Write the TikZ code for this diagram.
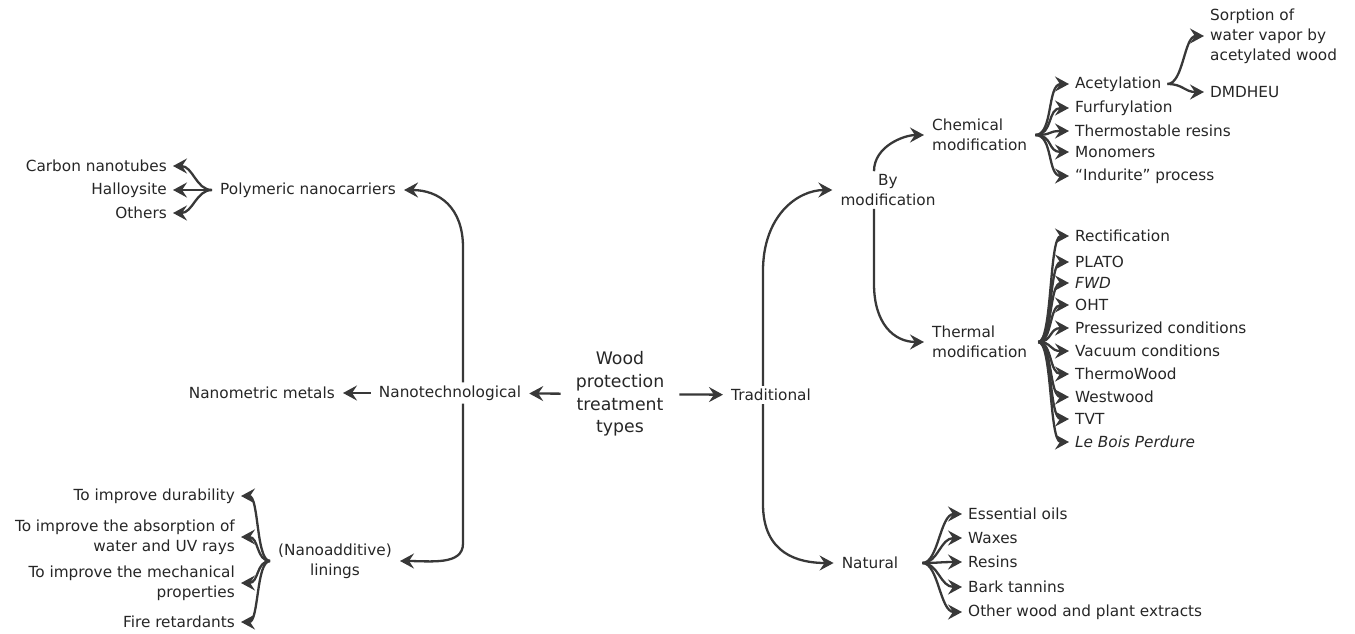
\documentclass[tikz,border=0pt]{standalone}
\usepackage{fontspec}
\setmainfont{DejaVu Sans}
\usetikzlibrary{arrows.meta}
\definecolor{ink}{HTML}{262626}
\definecolor{wire}{HTML}{383838}
\tikzset{
  txt/.style={text=ink, font=\fontsize{15.3}{19.8}\selectfont, inner ysep=3pt},
  main/.style={txt, inner xsep=8pt, align=center},
  rkid/.style={txt, inner xsep=6pt, anchor=west, align=left},
  lkid/.style={txt, inner xsep=6pt, anchor=east, align=right},
  arr/.style={draw=wire, line width=2.3pt, -{Stealth[length=14pt,width=15pt,inset=5pt]}},
}

\begin{document}
\begin{tikzpicture}[x=1pt,y=-1pt]
\useasboundingbox (0,0) rectangle (1355,633);

% centre and the two main branches
\node[main, font=\fontsize{17.3}{22.6}\selectfont, inner xsep=15pt] (root) at (620,394) {Wood\\protection\\treatment\\types};
\node[main] (nano) at (450,393) {Nanotechnological};
\node[main] (trad) at (771,395) {Traditional};
\draw[arr] (root) -- (nano);
\draw[arr] (root) -- (trad);

% nanotechnological side
\node[main, anchor=east] (metals) at (343,393) {Nanometric metals};
\node[main, anchor=west] (poly) at (212,190) {Polymeric nanocarriers};
\node[main] (lin) at (335,561) {(Nanoadditive)\\linings};
\draw[arr] (nano) -- (metals);
\draw[arr] ([xshift=13pt]nano.north) -- ++(0,-135) .. controls +(0,-40) and +(35,0) .. (poly.east);
\draw[arr] ([xshift=13pt]nano.south) -- ++(0,140) .. controls +(0,22) and +(30,0) .. (lin.east);

\foreach \t/\y [count=\i] in {Carbon nanotubes/166, Halloysite/190, Others/213}
  \node[lkid] (p\i) at (173,\y) {\t};
\foreach \i in {1,...,3}
  \draw[arr] (poly.west) .. controls +(-16,0) and +(20,0) .. (p\i.east);

\foreach \t/\y [count=\i] in {To improve durability/496, To improve the absorption of\\water and UV rays/537,
                              To improve the mechanical\\properties/583, Fire retardants/622}
  \node[lkid] (l\i) at (241,\y) {\t};
\foreach \i in {1,...,4}
  \draw[arr] (lin.west) .. controls +(-14,0) and +(18,0) .. (l\i.east);

% traditional side
\node[main] (bymod) at (888,190) {By\\modification};
\node[main] (nat) at (870,563) {Natural};
\draw[arr] ([xshift=-8pt]trad.north) -- ++(0,-115) .. controls +(0,-55) and +(-35,0) .. (bymod.west);
\draw[arr] ([xshift=-8pt]trad.south) -- ++(0,100) .. controls +(0,50) and +(-35,0) .. (nat.west);

\node[main, anchor=west, align=left] (chem) at (924,135) {Chemical\\modification};
\node[main, anchor=west, align=left] (therm) at (924,342) {Thermal\\modification};
\draw[arr] ([xshift=-14pt]bymod.north) .. controls +(0,-25) and +(-20,0) .. (chem.west);
\draw[arr] ([xshift=-14pt]bymod.south) -- ++(0,75) .. controls +(0,40) and +(-30,0) .. (therm.west);

\foreach \t/\y [count=\i] in {Acetylation/84, Furfurylation/108, Thermostable resins/131, Monomers/152, “Indurite” process/176}
  \node[rkid] (c\i) at (1069,\y) {\t};
\foreach \i in {1,...,5}
  \draw[arr] (chem.east) .. controls +(18,0) and +(-22,0) .. (c\i.west);

\node[rkid] (sorp) at (1204,36) {Sorption of\\water vapor by\\acetylated wood};
\node[rkid] (dmd) at (1204,92) {DMDHEU};
\draw[arr] (c1.east) .. controls +(16,0) and +(-20,0) .. (sorp.west);
\draw[arr] (c1.east) .. controls +(16,0) and +(-20,0) .. (dmd.west);

\foreach \t/\y [count=\i] in {Rectification/236, PLATO/262, \textit{FWD}/283, OHT/305, Pressurized conditions/328,
                              Vacuum conditions/351, ThermoWood/374, Westwood/397, TVT/419, \textit{Le Bois Perdure}/442}
  \node[rkid] (t\i) at (1069,\y) {\t};
\foreach \i in {1,...,10}
  \draw[arr] ([xshift=3pt]therm.east) .. controls +(14,0) and +(-20,0) .. (t\i.west);

\foreach \t/\y [count=\i] in {Essential oils/514, Waxes/538, Resins/562, Bark tannins/587, Other wood and plant extracts/612}
  \node[rkid] (n\i) at (962,\y) {\t};
\foreach \i in {1,...,5}
  \draw[arr] ([xshift=16pt]nat.east) .. controls +(16,0) and +(-22,0) .. (n\i.west);

\end{tikzpicture}
\end{document}
